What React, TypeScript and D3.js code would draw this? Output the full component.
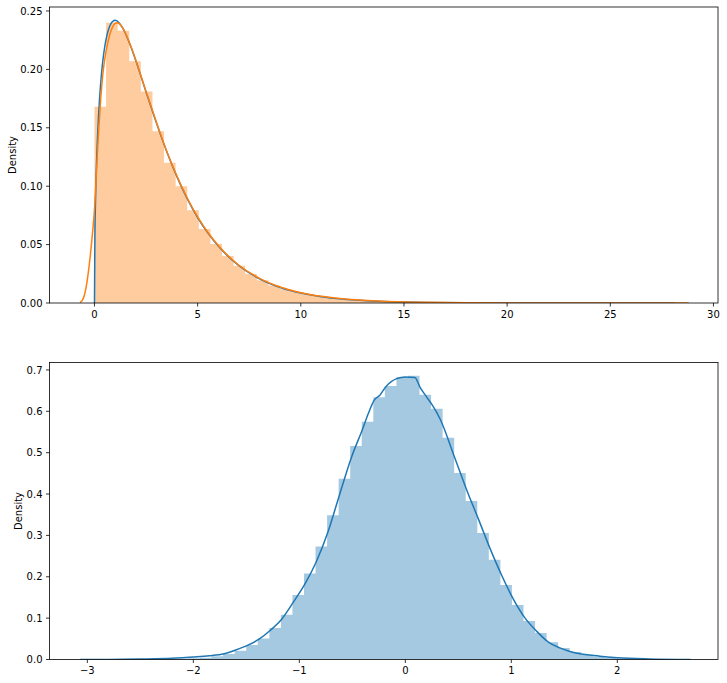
import React from "react";
import * as d3 from "d3";

// ---------- Data ----------
// Top panel: histogram of chi-square(3) samples (50 bins), density
const topBinStart = 0;
const topBinWidth = 0.562;
const topHist = [
  0.168, 0.240, 0.233, 0.207, 0.181, 0.147, 0.120, 0.100, 0.0795, 0.0634,
  0.0505, 0.0402, 0.0318, 0.0249, 0.0195, 0.0150, 0.0118, 0.0092, 0.0071, 0.0055,
  0.0043, 0.0033, 0.0026, 0.0020, 0.0015, 0.0012, 0.0009, 0.0007, 0.0005, 0.0004,
  0.0003, 0.00024, 0.00018, 0.00014, 0.0001, 0.00008, 0.00006, 0.00004, 0.00003, 0.00003,
  0.00002, 0.00001, 0.00001, 0.00001, 0, 0.00001, 0, 0, 0, 0.00001,
];
// Top panel: theoretical pdf (blue)
const topPdfX = [0, 0.02, 0.05, 0.1, 0.2, 0.3, 0.4, 0.5, 0.6, 0.7, 0.8, 0.9, 1.0, 1.2, 1.4, 1.6, 1.8, 2.0, 2.5, 3.0, 3.5, 4.0, 4.5, 5.0, 5.5, 6.0, 7.0, 8.0, 9.0, 10, 11, 12, 13, 14, 15, 16, 18, 20, 22, 25, 28.1];
const topPdfY = [0, 0.0559, 0.087, 0.12, 0.1614, 0.1881, 0.2066, 0.2197, 0.2289, 0.2352, 0.2392, 0.2413, 0.242, 0.2398, 0.2344, 0.2267, 0.2176, 0.2076, 0.1807, 0.1542, 0.1297, 0.108, 0.0892, 0.0732, 0.0598, 0.0487, 0.0319, 0.0207, 0.0133, 0.0085, 0.0054, 0.00343, 0.00216, 0.00136, 0.00085, 0.00053, 0.00021, 0.00008, 0.00003, 0.00001, 0];
// Top panel: kernel density estimate (orange)
const topKdeX = [-0.7, -0.6, -0.5, -0.4, -0.3, -0.2, -0.1, 0, 0.1, 0.2, 0.3, 0.4, 0.5, 0.6, 0.7, 0.8, 0.9, 1.0, 1.1, 1.2, 1.4, 1.6, 1.8, 2.0, 2.5, 3.0, 3.5, 4.0, 4.5, 5.0, 5.5, 6.0, 7.0, 8.0, 9.0, 10, 11, 12, 13, 14, 15, 16, 18, 20, 22, 24, 26, 27.5, 28.8];
const topKdeY = [0.0005, 0.002, 0.006, 0.014, 0.026, 0.041, 0.059, 0.080, 0.114, 0.147, 0.174, 0.195, 0.209, 0.219, 0.227, 0.233, 0.237, 0.2395, 0.2400, 0.2392, 0.2345, 0.227, 0.218, 0.208, 0.181, 0.155, 0.130, 0.1085, 0.0897, 0.0737, 0.0603, 0.0492, 0.0323, 0.0211, 0.0137, 0.0088, 0.0057, 0.0036, 0.0023, 0.0014, 0.0009, 0.0006, 0.00025, 0.0001, 0.00005, 0.00003, 0.00002, 0.00002, 0];

// Bottom panel: histogram of transformed samples (50 bins)
const botBinStart = -2.918;
const botBinWidth = 0.109;
const botHist = [
  0.0001, 0.0001, 0.0002, 0.0003, 0.0005, 0.0008, 0.0013, 0.002, 0.003, 0.0045,
  0.008, 0.013, 0.021, 0.035, 0.051, 0.076, 0.108, 0.156, 0.208, 0.273,
  0.349, 0.437, 0.516, 0.575, 0.634, 0.661, 0.683, 0.686, 0.640, 0.606,
  0.536, 0.451, 0.383, 0.306, 0.241, 0.180, 0.132, 0.093, 0.064, 0.042,
  0.028, 0.018, 0.011, 0.007, 0.004, 0.0025, 0.0015, 0.0008, 0.0004, 0.0002,
];
const botKdeX = [-3.07, -2.8, -2.5, -2.2, -2.0, -1.85, -1.71, -1.6, -1.49, -1.38, -1.276, -1.165, -1.058, -0.948, -0.842, -0.73, -0.622, -0.512, -0.402, -0.35, -0.293, -0.24, -0.185, -0.081, 0.0, 0.09, 0.139, 0.2, 0.252, 0.327, 0.469, 0.579, 0.689, 0.8, 0.91, 1.019, 1.13, 1.24, 1.35, 1.458, 1.57, 1.836, 2.0, 2.3, 2.69];
const botKdeY = [0, 0.0003, 0.0012, 0.003, 0.006, 0.009, 0.014, 0.023, 0.034, 0.049, 0.07, 0.098, 0.138, 0.182, 0.235, 0.308, 0.397, 0.486, 0.558, 0.594, 0.627, 0.639, 0.659, 0.679, 0.683, 0.682, 0.658, 0.635, 0.616, 0.582, 0.486, 0.41, 0.34, 0.268, 0.203, 0.146, 0.1, 0.068, 0.042, 0.028, 0.018, 0.008, 0.0045, 0.0015, 0];

const topXTicks = [0, 5, 10, 15, 20, 25, 30];
const topYTicks = [0, 0.05, 0.1, 0.15, 0.2, 0.25];
const botXTicks = [-3, -2, -1, 0, 1, 2];
const botYTicks = [0, 0.1, 0.2, 0.3, 0.4, 0.5, 0.6, 0.7];

const BLUE = "#1f77b4";
const ORANGE = "#ff7f0e";
const FONT = "DejaVu Sans, sans-serif";

type PanelProps = {
  top: number;
  bottom: number;
  left: number;
  right: number;
  xDomain: [number, number];
  yDomain: [number, number];
  hist: number[];
  binStart: number;
  binWidth: number;
  histColor: string;
  lines: { xs: number[]; ys: number[]; color: string }[];
  xTicks: number[];
  yTicks: number[];
  yFmt: (v: number) => string;
  ylabelX: number;
};

function fmtInt(v: number) {
  return v < 0 ? "\u2212" + Math.abs(v) : String(v);
}

function Panel(p: PanelProps) {
  const x = d3.scaleLinear().domain(p.xDomain).range([p.left, p.right]);
  const y = d3.scaleLinear().domain(p.yDomain).range([p.bottom, p.top]);
  const line = d3
    .line<[number, number]>()
    .x((d) => x(d[0]))
    .y((d) => y(d[1]))
    .curve(d3.curveMonotoneX);
  const clipId = "clip" + Math.round(p.top);
  // one path for all bars to avoid seams between adjacent rects
  const hp = d3.path();
  p.hist.forEach((h, i) => {
    const x0 = p.binStart + i * p.binWidth;
    const x1 = x0 + p.binWidth;
    if (h <= 0) return;
    hp.rect(x(x0), y(h), x(x1) - x(x0), y(0) - y(h));
  });
  return (
    <g>
      <defs>
        <clipPath id={clipId}>
          <rect x={p.left} y={p.top} width={p.right - p.left} height={p.bottom - p.top} />
        </clipPath>
      </defs>
      <g clipPath={`url(#${clipId})`}>
        <path d={hp.toString()} fill={p.histColor} fillOpacity={0.4} />
        {p.lines.map((l, i) => (
          <path
            key={i}
            d={line(l.xs.map((v, j) => [v, l.ys[j]] as [number, number])) || ""}
            fill="none"
            stroke={l.color}
            strokeWidth={1.5}
          />
        ))}
      </g>
      <rect
        x={p.left}
        y={p.top}
        width={p.right - p.left}
        height={p.bottom - p.top}
        fill="none"
        stroke="#000"
        strokeWidth={0.8}
      />
      {p.xTicks.map((t) => (
        <g key={"x" + t}>
          <line x1={x(t)} x2={x(t)} y1={p.bottom} y2={p.bottom + 3.5} stroke="#000" strokeWidth={0.8} />
          <text
            x={x(t)}
            y={p.bottom + 7}
            dy="0.76em"
            textAnchor="middle"
            fontFamily={FONT}
            fontSize={10}
            fill="#000"
          >
            {fmtInt(t)}
          </text>
        </g>
      ))}
      {p.yTicks.map((t) => (
        <g key={"y" + t}>
          <line x1={p.left - 3.5} x2={p.left} y1={y(t)} y2={y(t)} stroke="#000" strokeWidth={0.8} />
          <text
            x={p.left - 7}
            y={y(t)}
            dy="0.36em"
            textAnchor="end"
            fontFamily={FONT}
            fontSize={10}
            fill="#000"
          >
            {p.yFmt(t)}
          </text>
        </g>
      ))}
      <text
        transform={`translate(${p.ylabelX},${(p.top + p.bottom) / 2}) rotate(-90)`}
        dy="0.35em"
        textAnchor="middle"
        fontFamily={FONT}
        fontSize={10}
        fill="#000"
      >
        Density
      </text>
    </g>
  );
}

export default function App() {
  return (
    <svg
      width={727}
      height={683}
      style={{ position: "absolute", left: 0, top: 0, background: "#fff" }}
    >
      <rect x={0} y={0} width={727} height={683} fill="#fff" />
      <Panel
        top={7}
        bottom={303}
        left={49.5}
        right={718}
        xDomain={[-2.18, 30.22]}
        yDomain={[0, 0.2534]}
        hist={topHist}
        binStart={topBinStart}
        binWidth={topBinWidth}
        histColor={ORANGE}
        lines={[
          { xs: topPdfX, ys: topPdfY, color: BLUE },
          { xs: topKdeX, ys: topKdeY, color: ORANGE },
        ]}
        xTicks={topXTicks}
        yTicks={topYTicks}
        yFmt={(v) => v.toFixed(2)}
        ylabelX={12}
      />
      <Panel
        top={362.5}
        bottom={659.5}
        left={49.5}
        right={718}
        xDomain={[-3.357, 2.95]}
        yDomain={[0, 0.718]}
        hist={botHist}
        binStart={botBinStart}
        binWidth={botBinWidth}
        histColor={BLUE}
        lines={[{ xs: botKdeX, ys: botKdeY, color: BLUE }]}
        xTicks={botXTicks}
        yTicks={botYTicks}
        yFmt={(v) => v.toFixed(1)}
        ylabelX={18}
      />
    </svg>
  );
}
